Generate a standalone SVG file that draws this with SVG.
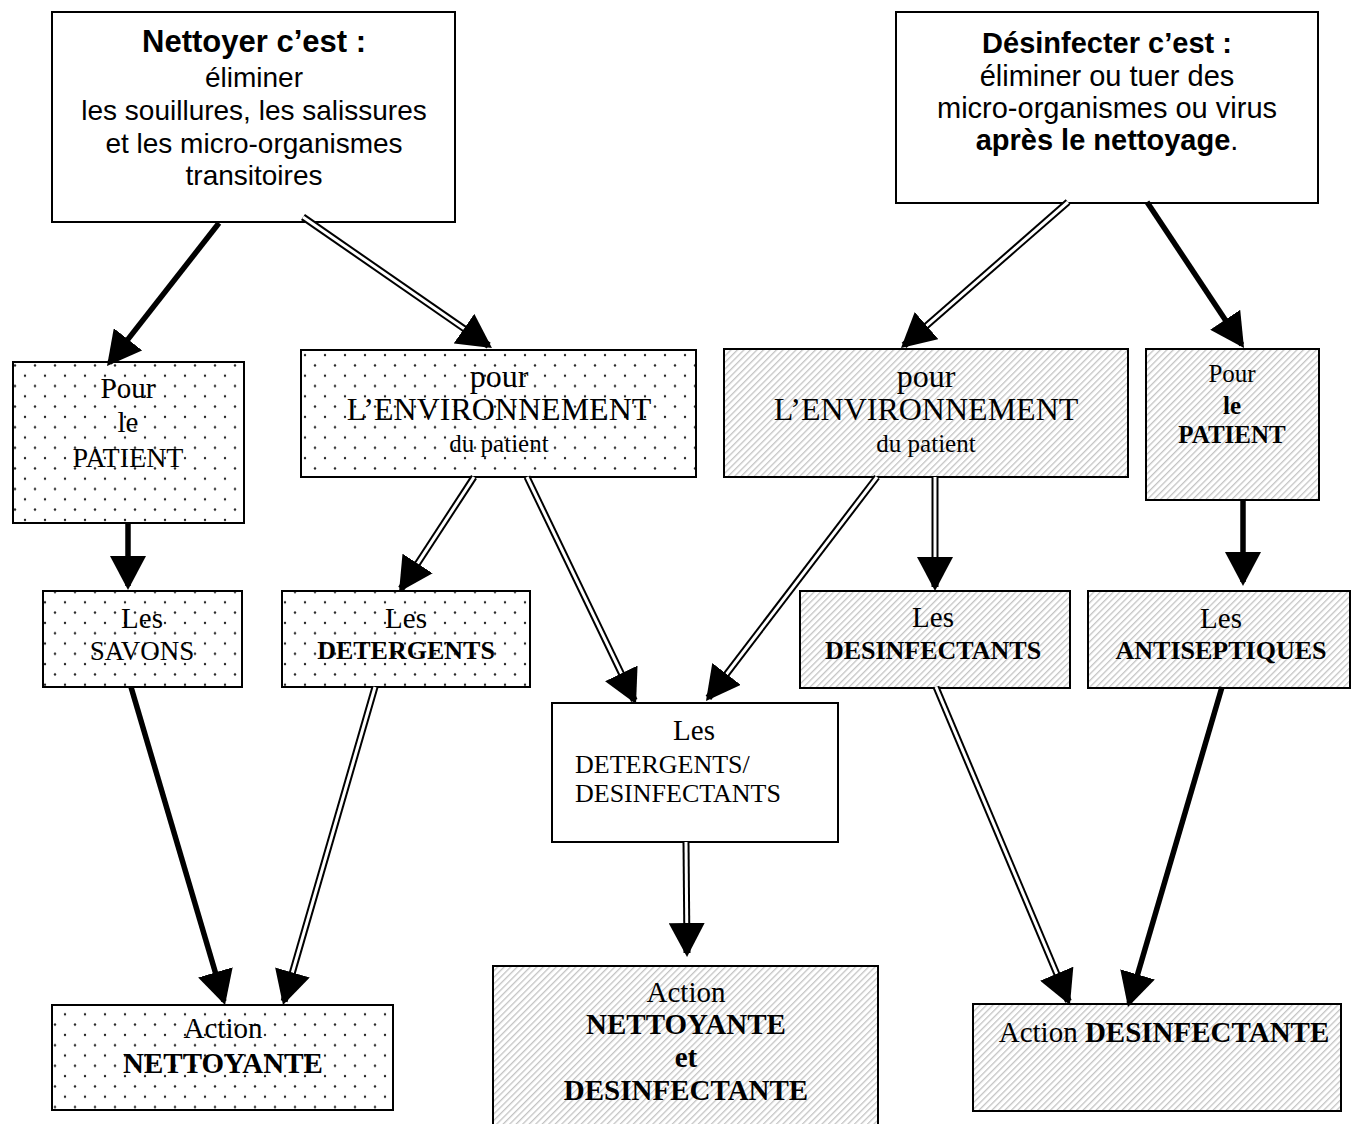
<svg xmlns="http://www.w3.org/2000/svg" width="1351" height="1124" viewBox="0 0 1351 1124">
<style>
.box{stroke:#000;stroke-width:2}
.plain{fill:#fff}
.dots{fill:url(#dots)}
.hatch{fill:url(#hatch)}
.sans{font-family:"Liberation Sans",Arial,sans-serif;fill:#000}
.serif{font-family:"Liberation Serif","Times New Roman",serif;fill:#000}
.b{font-weight:bold}
.mid{text-anchor:middle}
.solid{fill:none;stroke:#000;stroke-width:5.5}
.dblo{fill:none;stroke:#000;stroke-width:7}
.dbli{fill:none;stroke:#fff;stroke-width:3}
</style>
<defs>
<pattern id="dots" patternUnits="userSpaceOnUse" width="20" height="20.6">
<rect width="20" height="20.6" fill="#fff"/>
<circle cx="5" cy="5" r="1.2" fill="#222"/>
<circle cx="15" cy="15.3" r="1.2" fill="#222"/>
</pattern>
<pattern id="hatch" patternUnits="userSpaceOnUse" width="4.6" height="10" patternTransform="rotate(45)">
<rect width="4.6" height="10" fill="#fff"/>
<rect width="1.3" height="10" fill="#c4c4c4"/>
</pattern>
<marker id="ah" markerUnits="userSpaceOnUse" viewBox="0 0 34 36" markerWidth="34" markerHeight="36" refX="30" refY="18" orient="auto">
<path d="M0,0 L34,18 L0,36 z" fill="#000"/>
</marker>
</defs>
<rect width="1351" height="1124" fill="#fff"/>

<g id="nettoyer">
<rect class="box plain" x="52" y="12" width="403" height="210"/>
<text class="sans b mid" x="254" y="52" font-size="31">Nettoyer c’est :</text>
<text class="sans mid" x="254" y="87" font-size="28">éliminer</text>
<text class="sans mid" x="254" y="120" font-size="28">les souillures, les salissures</text>
<text class="sans mid" x="254" y="153" font-size="28">et les micro-organismes</text>
<text class="sans mid" x="254" y="185" font-size="28">transitoires</text>
</g>

<g id="desinfecter">
<rect class="box plain" x="896" y="12" width="422" height="191"/>
<text class="sans b mid" x="1107" y="53" font-size="29">Désinfecter c’est :</text>
<text class="sans mid" x="1107" y="86" font-size="29">éliminer ou tuer des</text>
<text class="sans mid" x="1107" y="118" font-size="29">micro-organismes ou virus</text>
<text class="sans mid" x="1107" y="150" font-size="29"><tspan class="b">après le nettoyage</tspan>.</text>
</g>

<g id="pour-patient-n">
<rect class="box dots" x="13" y="362" width="231" height="161"/>
<text class="serif mid" x="128" y="398" font-size="29">Pour</text>
<text class="serif mid" x="128" y="432" font-size="29">le</text>
<text class="serif mid" x="128" y="467" font-size="28">PATIENT</text>
</g>

<g id="pour-env-n">
<rect class="box dots" x="301" y="350" width="395" height="127"/>
<text class="serif mid" x="499" y="387" font-size="32">pour</text>
<text class="serif mid" x="499" y="420" font-size="32">L’ENVIRONNEMENT</text>
<text class="serif mid" x="499" y="452" font-size="25">du patient</text>
</g>

<g id="pour-env-d">
<rect class="box hatch" x="724" y="349" width="404" height="128"/>
<text class="serif mid" x="926" y="387" font-size="32">pour</text>
<text class="serif mid" x="926" y="420" font-size="32">L’ENVIRONNEMENT</text>
<text class="serif mid" x="926" y="452" font-size="25">du patient</text>
</g>

<g id="pour-patient-d">
<rect class="box hatch" x="1146" y="349" width="173" height="151"/>
<text class="serif mid" x="1232" y="382" font-size="25">Pour</text>
<text class="serif b mid" x="1232" y="414" font-size="25">le</text>
<text class="serif b mid" x="1232" y="443" font-size="25">PATIENT</text>
</g>

<g id="savons">
<rect class="box dots" x="43" y="591" width="199" height="96"/>
<text class="serif mid" x="142" y="628" font-size="29">Les</text>
<text class="serif mid" x="142" y="660" font-size="27">SAVONS</text>
</g>

<g id="detergents">
<rect class="box dots" x="282" y="591" width="248" height="96"/>
<text class="serif mid" x="406" y="628" font-size="29">Les</text>
<text class="serif b mid" x="406" y="659" font-size="26">DETERGENTS</text>
</g>

<g id="desinfectants">
<rect class="box hatch" x="800" y="591" width="270" height="97"/>
<text class="serif mid" x="933" y="627" font-size="29">Les</text>
<text class="serif b mid" x="933" y="659" font-size="26">DESINFECTANTS</text>
</g>

<g id="antiseptiques">
<rect class="box hatch" x="1088" y="591" width="262" height="97"/>
<text class="serif mid" x="1221" y="628" font-size="29">Les</text>
<text class="serif b mid" x="1221" y="659" font-size="26">ANTISEPTIQUES</text>
</g>

<g id="det-des">
<rect class="box plain" x="552" y="703" width="286" height="139"/>
<text class="serif mid" x="694" y="740" font-size="29">Les</text>
<text class="serif" x="575" y="773" font-size="26">DETERGENTS/</text>
<text class="serif" x="575" y="802" font-size="26">DESINFECTANTS</text>
</g>

<g id="action-n">
<rect class="box dots" x="52" y="1005" width="341" height="105"/>
<text class="serif mid" x="223" y="1038" font-size="29">Action</text>
<text class="serif b mid" x="223" y="1073" font-size="29">NETTOYANTE</text>
</g>

<g id="action-nd">
<rect class="box hatch" x="493" y="966" width="385" height="160"/>
<text class="serif mid" x="686" y="1002" font-size="29">Action</text>
<text class="serif b mid" x="686" y="1034" font-size="29">NETTOYANTE</text>
<text class="serif b mid" x="686" y="1067" font-size="29">et</text>
<text class="serif b mid" x="686" y="1100" font-size="29">DESINFECTANTE</text>
</g>

<g id="action-d">
<rect class="box hatch" x="973" y="1004" width="368" height="107"/>
<text class="serif mid" x="1164" y="1042" font-size="29">Action <tspan class="b">DESINFECTANTE</tspan></text>
</g>

<g id="connectors">
<path class="solid" d="M219,223 L109.5,362.9" marker-end="url(#ah)"/>
<path class="dblo" d="M303,217 L488.7,345.7"/>
<path class="dbli" d="M303,217 L488.7,345.7" marker-end="url(#ah)"/>
<path class="dblo" d="M1068,202 L904,345.4"/>
<path class="dbli" d="M1068,202 L904,345.4" marker-end="url(#ah)"/>
<path class="solid" d="M1147,202 L1241.8,344.7" marker-end="url(#ah)"/>
<path class="solid" d="M128,523 L128,586" marker-end="url(#ah)"/>
<path class="dblo" d="M474,477 L401.2,588.6"/>
<path class="dbli" d="M474,477 L401.2,588.6" marker-end="url(#ah)"/>
<path class="dblo" d="M527,477 L634.3,700.4"/>
<path class="dbli" d="M527,477 L634.3,700.4" marker-end="url(#ah)"/>
<path class="dblo" d="M877,477 L708.4,697.8"/>
<path class="dbli" d="M877,477 L708.4,697.8" marker-end="url(#ah)"/>
<path class="dblo" d="M935,477 L935,587"/>
<path class="dbli" d="M935,477 L935,587" marker-end="url(#ah)"/>
<path class="solid" d="M1243,500 L1243,582" marker-end="url(#ah)"/>
<path class="solid" d="M131,687 L223.9,1001.2" marker-end="url(#ah)"/>
<path class="dblo" d="M375,687 L284.1,1001.2"/>
<path class="dbli" d="M375,687 L284.1,1001.2" marker-end="url(#ah)"/>
<path class="dblo" d="M686,842 L687,953"/>
<path class="dbli" d="M686,842 L687,953" marker-end="url(#ah)"/>
<path class="dblo" d="M936,687 L1068.4,1001.3"/>
<path class="dbli" d="M936,687 L1068.4,1001.3" marker-end="url(#ah)"/>
<path class="solid" d="M1222,687 L1129.1,1003.2" marker-end="url(#ah)"/>
</g>
</svg>
